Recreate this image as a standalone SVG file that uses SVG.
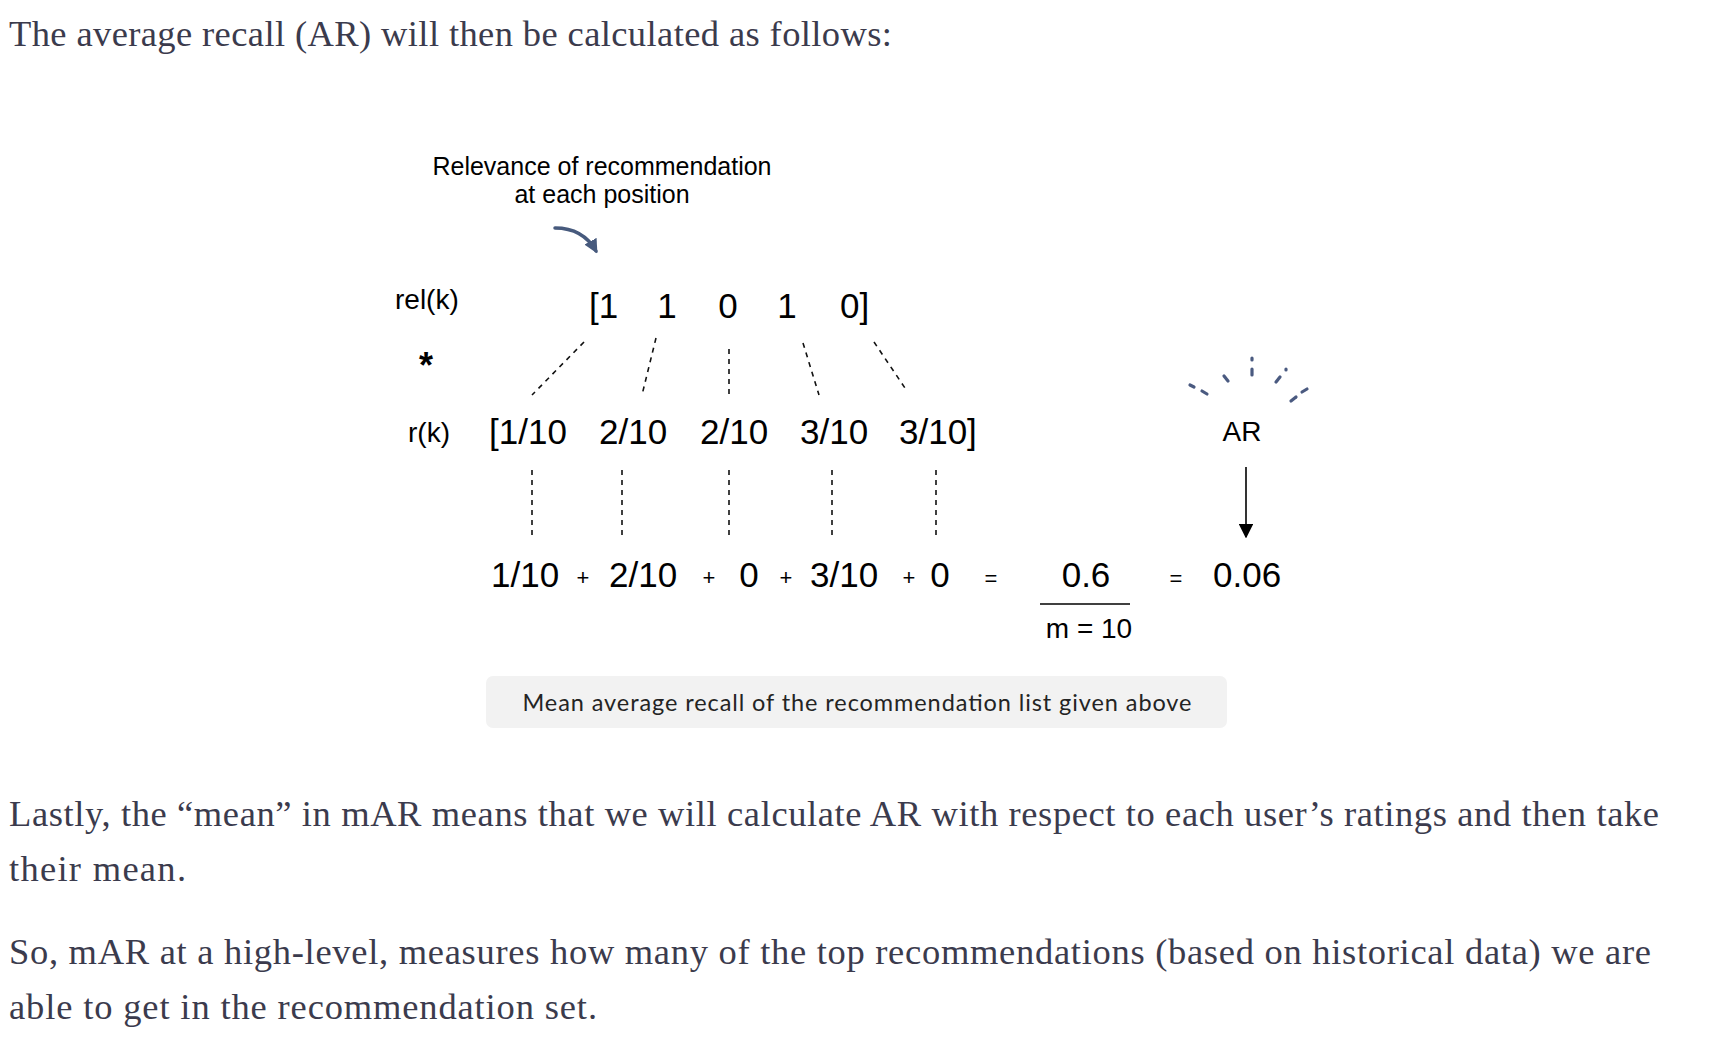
<svg xmlns="http://www.w3.org/2000/svg" width="1722" height="1048" viewBox="0 0 1722 1048">
<defs>
<style>
.body{font-family:"Liberation Serif","Times New Roman",serif;font-size:36.5px;fill:#3b3b4d}
.d{font-family:"Liberation Sans",Arial,Helvetica,sans-serif;fill:#000}
.lbl{font-size:28px}
.num{font-size:35px}
.op{font-size:22px}
.note{font-size:25px}
.cap{font-family:Lato,"Noto Sans",sans-serif;font-size:23.5px;fill:#242424}
.dash{stroke:#111;stroke-width:1.6;stroke-dasharray:5 5;fill:none}
.spark{stroke:#4a5a80;stroke-width:3.2;stroke-linecap:round;fill:none}
</style>
<marker id="blueHead" viewBox="0 0 10 10" refX="8" refY="5" markerWidth="4" markerHeight="4" orient="auto" markerUnits="strokeWidth">
<path d="M0,0 L10,5 L0,10 Z" fill="#475a7d"/>
</marker>
<marker id="blackHead" viewBox="0 0 10 10" refX="9" refY="5" markerWidth="9" markerHeight="9" orient="auto" markerUnits="strokeWidth">
<path d="M0,0 L10,5 L0,10 Z" fill="#000"/>
</marker>
</defs>
<rect width="1722" height="1048" fill="#fff"/>

<g id="intro">
<text class="body" x="9" y="46" textLength="883" lengthAdjust="spacing">The average recall (AR) will then be calculated as follows:</text>
</g>

<g id="note">
<text class="d note" x="602" y="175" text-anchor="middle">Relevance of recommendation</text>
<text class="d note" x="602" y="203" text-anchor="middle">at each position</text>
</g>

<g id="labels">
<text class="d lbl" x="395" y="309">rel(k)</text>
<text class="d" x="426" y="378" font-size="36" font-weight="bold" text-anchor="middle">*</text>
<text class="d lbl" x="408" y="442">r(k)</text>
</g>

<g id="rel-row">
<text class="d num" x="589" y="318">[1</text>
<text class="d num" x="667" y="318" text-anchor="middle">1</text>
<text class="d num" x="728" y="318" text-anchor="middle">0</text>
<text class="d num" x="787" y="318" text-anchor="middle">1</text>
<text class="d num" x="840" y="318">0]</text>
</g>

<g id="r-row">
<text class="d num" x="489" y="444">[1/10</text>
<text class="d num" x="599" y="444">2/10</text>
<text class="d num" x="700" y="444">2/10</text>
<text class="d num" x="800" y="444">3/10</text>
<text class="d num" x="899" y="444">3/10]</text>
</g>

<g id="sum-row">
<text class="d num" x="491" y="587">1/10</text>
<text class="d op" x="583" y="585" text-anchor="middle">+</text>
<text class="d num" x="609" y="587">2/10</text>
<text class="d op" x="709" y="585" text-anchor="middle">+</text>
<text class="d num" x="749" y="587" text-anchor="middle">0</text>
<text class="d op" x="786" y="585" text-anchor="middle">+</text>
<text class="d num" x="810" y="587">3/10</text>
<text class="d op" x="909" y="585" text-anchor="middle">+</text>
<text class="d num" x="940" y="587" text-anchor="middle">0</text>
<text class="d op" x="991" y="586" text-anchor="middle">=</text>
</g>

<g id="fraction">
<text class="d num" x="1086" y="587" text-anchor="middle">0.6</text>
<line x1="1040" y1="604" x2="1130" y2="604" stroke="#000" stroke-width="1.6"/>
<text class="d lbl" x="1089" y="638" text-anchor="middle">m = 10</text>
</g>

<g id="result">
<text class="d op" x="1176" y="586" text-anchor="middle">=</text>
<text class="d num" x="1213" y="587">0.06</text>
</g>

<g id="ar">
<text class="d lbl" x="1242" y="441" text-anchor="middle">AR</text>
<g class="spark">
<line x1="1190" y1="385" x2="1194" y2="387"/>
<line x1="1202" y1="391" x2="1207" y2="394"/>
<line x1="1224" y1="376" x2="1228" y2="381"/>
<line x1="1252" y1="358" x2="1252" y2="360"/>
<line x1="1252" y1="369" x2="1252" y2="375"/>
<line x1="1286" y1="369" x2="1286" y2="370"/>
<line x1="1276" y1="382" x2="1280" y2="377"/>
<line x1="1291" y1="401" x2="1296" y2="397"/>
<line x1="1302" y1="392" x2="1307" y2="389"/>
</g>
</g>

<g id="connectors">
<path d="M555,228 Q583,228 596,251" stroke="#475a7d" stroke-width="3.5" fill="none" stroke-linecap="round" marker-end="url(#blueHead)"/>
<line class="dash" x1="584" y1="342" x2="532" y2="395"/>
<line class="dash" x1="656" y1="338" x2="642" y2="395"/>
<line class="dash" x1="729" y1="349" x2="729" y2="395"/>
<line class="dash" x1="803" y1="343" x2="819" y2="395"/>
<line class="dash" x1="874" y1="342" x2="907" y2="391"/>
<line class="dash" x1="532" y1="470" x2="532" y2="538"/>
<line class="dash" x1="622" y1="470" x2="622" y2="538"/>
<line class="dash" x1="729" y1="470" x2="729" y2="538"/>
<line class="dash" x1="832" y1="470" x2="832" y2="538"/>
<line class="dash" x1="936" y1="470" x2="936" y2="538"/>
<line x1="1246" y1="467" x2="1246" y2="537" stroke="#000" stroke-width="1.6" marker-end="url(#blackHead)"/>
</g>

<g id="caption">
<rect x="486" y="676" width="741" height="52" rx="7" fill="#f2f2f2"/>
<text class="cap" x="857" y="711" text-anchor="middle" textLength="669" lengthAdjust="spacing">Mean average recall of the recommendation list given above</text>
</g>

<g id="outro">
<text class="body" x="9" y="826" textLength="1650" lengthAdjust="spacing">Lastly, the “mean” in mAR means that we will calculate AR with respect to each user’s ratings and then take</text>
<text class="body" x="9" y="881" textLength="177" lengthAdjust="spacing">their mean.</text>
<text class="body" x="9" y="964" textLength="1642" lengthAdjust="spacing">So, mAR at a high-level, measures how many of the top recommendations (based on historical data) we are</text>
<text class="body" x="9" y="1019" textLength="588" lengthAdjust="spacing">able to get in the recommendation set.</text>
</g>
</svg>
